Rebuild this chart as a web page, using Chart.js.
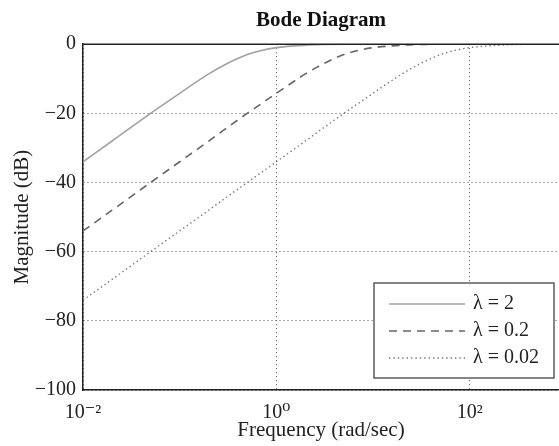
<!DOCTYPE html>
<html>
<head>
<meta charset="utf-8">
<script src="https://cdn.jsdelivr.net/npm/chart.js@4/dist/chart.umd.min.js"></script>
<style>
html, body { margin: 0; padding: 0; background: #fff; }
#wrap { width: 559px; height: 446px; }
</style>
</head>
<body>
<div id="wrap"><canvas id="bode" width="559" height="446"></canvas></div>
<script>
const freq = [0.01, 0.02, 0.05, 0.1, 0.2, 0.3, 0.5, 0.7, 1, 2, 3, 5, 7, 10, 20, 30, 50, 70, 100, 200, 300, 500, 1000];

// magnitude (dB) for each lambda
const magLam2 = [-34.0, -28.0, -20.0, -14.2, -8.6, -5.8, -3.0, -1.8, -1.0, -0.3, -0.1, 0, 0, 0, 0, 0, 0, 0, 0, 0, 0, 0, 0];
const magLam02 = [-54.0, -48.0, -40.0, -34.0, -28.0, -24.4, -20.0, -17.2, -14.2, -8.6, -5.8, -3.0, -1.8, -1.0, -0.3, -0.1, 0, 0, 0, 0, 0, 0, 0];
const magLam002 = [-74.0, -68.0, -60.0, -54.0, -48.0, -44.4, -40.0, -37.1, -34.0, -28.0, -24.4, -20.0, -17.2, -14.2, -8.6, -5.8, -3.0, -1.8, -1.0, -0.3, -0.1, 0, 0];

const seriesLabels = ['λ = 2', 'λ = 0.2', 'λ = 0.02'];
const xTicks = [0.01, 1, 100];
const yTicks = [0, -20, -40, -60, -80, -100];

const sup = { '-': '⁻', '0': '⁰', '1': '¹', '2': '²', '3': '³' };
function powLabel(v) {
    const e = String(Math.round(Math.log10(v)));
    return '10' + e.split('').map(c => sup[c]).join('');
}

function pts(ys) {
    return freq.map((f, i) => ({ x: f, y: ys[i] }));
}

Chart.defaults.font.family = '"Liberation Serif", "DejaVu Serif", serif';
Chart.defaults.color = '#222';

// legend box drawn inside the plot, bottom right
const boxLegend = {
    id: 'boxLegend',
    afterDraw(chart) {
        const ctx = chart.ctx;
        const a = chart.chartArea;
        const w = 180, h = 95;
        const x0 = a.right - 5 - w, y0 = a.bottom - 12 - h;
        ctx.save();
        ctx.fillStyle = '#fff';
        ctx.fillRect(x0, y0, w, h);
        ctx.strokeStyle = '#444';
        ctx.lineWidth = 1.3;
        ctx.strokeRect(x0, y0, w, h);
        ctx.font = '20px "Liberation Serif", "DejaVu Serif", serif';
        ctx.textBaseline = 'middle';
        ctx.fillStyle = '#222';
        chart.data.datasets.forEach((ds, i) => {
            const y = y0 + 21 + i * 27;
            ctx.beginPath();
            ctx.strokeStyle = ds.borderColor;
            ctx.lineWidth = ds.borderWidth;
            ctx.setLineDash(ds.borderDash || []);
            ctx.moveTo(x0 + 15, y);
            ctx.lineTo(x0 + 91, y);
            ctx.stroke();
            ctx.setLineDash([]);
            ctx.fillText(ds.label, x0 + 99, y);
        });
        // top frame line
        ctx.beginPath();
        ctx.strokeStyle = '#222';
        ctx.lineWidth = 1.5;
        ctx.moveTo(a.left, a.top);
        ctx.lineTo(a.right, a.top);
        ctx.stroke();
        ctx.restore();
    },
    afterLayout(chart) {
        // centre the title over the plot area
        if (chart.titleBlock) {
            chart.titleBlock.left = chart.chartArea.left;
            chart.titleBlock.right = chart.chartArea.right;
        }
    }
};

const ctx = document.getElementById('bode').getContext('2d');
const bodeChart = new Chart(ctx, {
    type: 'line',
    data: {
        datasets: [{
            label: seriesLabels[0],
            data: pts(magLam2),
            borderColor: '#a2a2a2',
            borderWidth: 1.6,
            borderDash: [],
            pointRadius: 0,
            cubicInterpolationMode: 'monotone'
        }, {
            label: seriesLabels[1],
            data: pts(magLam02),
            borderColor: '#666',
            borderWidth: 1.6,
            borderDash: [8, 6],
            pointRadius: 0,
            cubicInterpolationMode: 'monotone'
        }, {
            label: seriesLabels[2],
            data: pts(magLam002),
            borderColor: '#777',
            borderWidth: 1.4,
            borderDash: [1.4, 3],
            pointRadius: 0,
            cubicInterpolationMode: 'monotone'
        }]
    },
    options: {
        responsive: false,
        animation: false,
        devicePixelRatio: 1,
        layout: { padding: { left: 0, right: 0, top: 0, bottom: 0 } },
        scales: {
            x: {
                type: 'logarithmic',
                min: 0.01,
                max: 840,
                afterBuildTicks: scale => { scale.ticks = xTicks.map(v => ({ value: v })); },
                afterFit: scale => { scale.height = 56; },
                ticks: {
                    autoSkip: false,
                    maxRotation: 0,
                    padding: 11,
                    font: { size: 20 },
                    callback: v => powLabel(v)
                },
                grid: { color: '#555', lineWidth: 1, drawTicks: false },
                border: { display: true, color: '#222', width: 1.5, dash: [1, 3] },
                title: {
                    display: true,
                    text: 'Frequency (rad/sec)',
                    font: { size: 21 },
                    padding: { top: 0, bottom: 3 }
                }
            },
            y: {
                min: -100,
                max: 0,
                afterBuildTicks: scale => { scale.ticks = yTicks.map(v => ({ value: v })); },
                afterFit: scale => { scale.width = 83; },
                ticks: {
                    padding: 7,
                    font: { size: 20 },
                    callback: v => (v < 0 ? '−' + Math.abs(v) : String(v))
                },
                grid: { color: '#555', lineWidth: 1, drawTicks: false },
                border: { display: true, color: '#222', width: 1.5, dash: [1, 3] },
                title: {
                    display: true,
                    text: 'Magnitude (dB)',
                    font: { size: 21 },
                    padding: { top: 10, bottom: 0 }
                }
            }
        },
        plugins: {
            legend: { display: false },
            tooltip: { enabled: false },
            title: {
                display: true,
                text: 'Bode Diagram',
                font: { size: 21, weight: 'bold' },
                color: '#111',
                padding: { top: 8, bottom: 11 }
            }
        }
    },
    plugins: [boxLegend]
});
</script>
</body>
</html>
